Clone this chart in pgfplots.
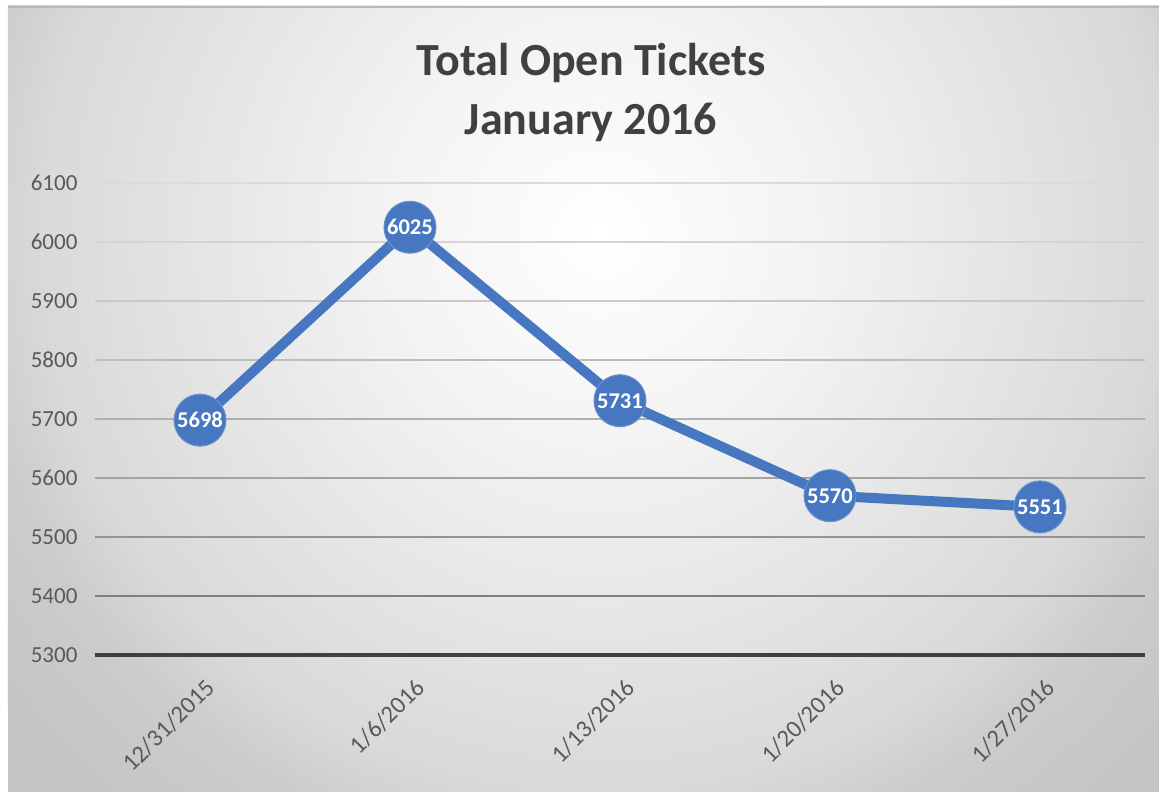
\documentclass[border=0pt]{standalone}
\usepackage{pgfplots}
\pgfplotsset{compat=1.18}
\usetikzlibrary{backgrounds,calc}
\usepackage{fontspec}
\setmainfont{Carlito}
\definecolor{lineblue}{HTML}{4677C0}
\definecolor{ticktext}{HTML}{595959}
\definecolor{titletext}{HTML}{404040}
\pgfdeclareradialshading{bgshade}{\pgfpoint{0bp}{0bp}}{color(0bp)=(white); color(7.5bp)=(white!95!black); color(18.5bp)=(white!85!black); color(21bp)=(white!80!black); color(25bp)=(white!77!black); color(50bp)=(white!77!black)}
\begin{document}
\begin{tikzpicture}
\begin{axis}[
  scale only axis, width=1050pt, height=472pt,
  xmin=-0.5, xmax=4.5, ymin=5300, ymax=6100,
  ytick={5300,5400,...,6100},
  xtick={0,1,2,3,4},
  xticklabels={12/31/2015,1/6/2016,1/13/2016,1/20/2016,1/27/2016},
  axis line style={draw=none},
  major tick length=0,
  scaled y ticks=false,
  /pgf/number format/1000 sep={},
  /pgf/number format/assume math mode=true,
  yticklabel style={font=\fontsize{23}{27}\selectfont, text=ticktext, xshift=-14pt},
  xticklabel style={xshift=4pt, yshift=-22pt, font=\fontsize{24.5}{28}\selectfont, text=ticktext, rotate=45, anchor=north east, inner sep=0pt},
  clip=false,
]
\draw[line width=2pt, black!14] (axis cs:-0.5,6100) -- (axis cs:4.5,6100);
\draw[line width=2pt, black!17] (axis cs:-0.5,6000) -- (axis cs:4.5,6000);
\draw[line width=2pt, black!21] (axis cs:-0.5,5900) -- (axis cs:4.5,5900);
\draw[line width=2pt, black!26] (axis cs:-0.5,5800) -- (axis cs:4.5,5800);
\draw[line width=2pt, black!31] (axis cs:-0.5,5700) -- (axis cs:4.5,5700);
\draw[line width=2pt, black!36] (axis cs:-0.5,5600) -- (axis cs:4.5,5600);
\draw[line width=2pt, black!42] (axis cs:-0.5,5500) -- (axis cs:4.5,5500);
\draw[line width=2pt, black!50] (axis cs:-0.5,5400) -- (axis cs:4.5,5400);
\draw[line width=4pt, black!75] (axis cs:-0.5,5300) -- (axis cs:4.5,5300);
\addplot[lineblue, line width=10pt, mark=*, mark size=26pt,
  mark options={fill=lineblue, draw=lineblue!80!white, line width=1pt},
  nodes near coords,
  every node near coord/.append style={anchor=center, text=white, font=\fontsize{22.5}{26}\selectfont\bfseries},
] coordinates {(0,5698) (1,6025) (2,5731) (3,5570) (4,5551)};
\coordinate (O) at (axis cs:-0.5,5300);
\end{axis}
\coordinate (BL) at ($(O)+(-95pt,-137pt)$);
\begin{scope}[on background layer, shift={(BL)}, x=1pt, y=1pt]
\fill[white] (0,0) rectangle (1159,792);
\fill[white!77!black] (8,0) rectangle (1159,786);
\begin{scope}
\clip (8,0) rectangle (1159,786);
\shade[shading=bgshade] (600,560) ellipse [x radius=760, y radius=760];
\end{scope}
\draw[line width=2pt, white!72!black] (8,785) -- (1159,785);
\end{scope}
\begin{scope}[shift={(BL)}, x=1pt, y=1pt]
\node[font=\fontsize{46}{59}\selectfont\bfseries, text=titletext, anchor=base] at (591,716) {Total Open Tickets};
\node[font=\fontsize{46}{59}\selectfont\bfseries, text=titletext, anchor=base] at (591,657) {January 2016};
\end{scope}
\pgfresetboundingbox
\useasboundingbox (BL) rectangle ($(BL)+(1159pt,792pt)$);
\end{tikzpicture}
\end{document}
